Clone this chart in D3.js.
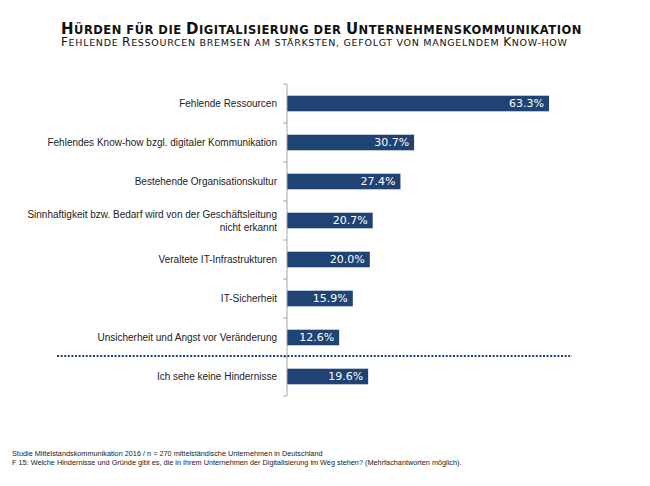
<!DOCTYPE html>
<html>
  <head>
    <script src="https://d3js.org/d3.v7.min.js"></script>
    <meta charset="utf-8">
    <title>Hürden Digitalisierung</title>
    <style>
      body { margin: 0; background: #fff; }
      svg { display: block; }
      .cat { font-family: "Liberation Sans", Arial, sans-serif; font-size: 10px; fill: #222; }
      .val { font-family: "DejaVu Sans", sans-serif; font-size: 11px; fill: #fff; }
      .foot { font-family: "Liberation Sans", Arial, sans-serif; font-size: 7.3px; fill: #222; }
    </style>
  </head>
  <body>
    <script>
      // chart data
      const categories = [
        "Fehlende Ressourcen",
        "Fehlendes Know-how bzgl. digitaler Kommunikation",
        "Bestehende Organisationskultur",
        "Sinnhaftigkeit bzw. Bedarf wird von der Geschäftsleitung\nnicht erkannt",
        "Veraltete IT-Infrastrukturen",
        "IT-Sicherheit",
        "Unsicherheit und Angst vor Veränderung",
        "Ich sehe keine Hindernisse"
      ];
      const values = [63.3, 30.7, 27.4, 20.7, 20.0, 15.9, 12.6, 19.6];

      const title = "Hürden für die Digitalisierung der Unternehmenskommunikation";
      const subtitle = "Fehlende Ressourcen bremsen am stärksten, gefolgt von mangelndem Know-how";
      const footer = [
        "Studie Mittelstandskommunikation 2016 / n = 270 mittelständische Unternehmen in Deutschland",
        "F 15: Welche Hindernisse und Gründe gibt es, die in Ihrem Unternehmen der Digitalisierung im Weg stehen? (Mehrfachantworten möglich)."
      ];

      const width = 650, height = 486;
      const barColor = "#1f4374";

      const svg = d3.select("body")
        .append("svg")
        .attr("width", width)
        .attr("height", height);

      // scales
      const x = d3.scaleLinear().domain([0, 100]).range([287, 701]);
      const y = d3.scaleBand()
        .domain(categories)
        .range([84, 396])
        .paddingInner(0.6)
        .paddingOuter(0.3);

      // small caps: capital letters keep the big size, everything else is uppercased small
      function smallCaps(sel, text, big, small) {
        let run = "", runBig = null;
        const flush = () => {
          if (run) sel.append("tspan").attr("font-size", runBig ? big : small).text(run.toUpperCase());
          run = "";
        };
        for (const ch of text) {
          const isBig = ch !== ch.toLowerCase();
          if (runBig !== null && isBig !== runBig) flush();
          runBig = isBig;
          run += ch;
        }
        flush();
      }

      const t1 = svg.append("text")
        .attr("x", 61).attr("y", 34)
        .attr("font-family", "DejaVu Sans, sans-serif")
        .attr("font-weight", "bold")
        .attr("letter-spacing", 0.5)
        .attr("fill", "#111");
      smallCaps(t1, title, "15px", "11.5px");

      const t2 = svg.append("text")
        .attr("x", 61).attr("y", 46)
        .attr("font-family", "DejaVu Sans, sans-serif")
        .attr("letter-spacing", 0.7)
        .attr("fill", "#111");
      smallCaps(t2, subtitle, "12px", "9.5px");

      // bars
      svg.selectAll("rect.bar")
        .data(values)
        .enter()
        .append("rect")
        .attr("class", "bar")
        .attr("x", x(0))
        .attr("y", (d, i) => y(categories[i]))
        .attr("width", d => x(d) - x(0))
        .attr("height", y.bandwidth())
        .attr("fill", barColor);

      // value labels
      svg.selectAll("text.val")
        .data(values)
        .enter()
        .append("text")
        .attr("class", "val")
        .attr("x", d => x(d) - 5)
        .attr("y", (d, i) => y(categories[i]) + y.bandwidth() / 2)
        .attr("dy", "0.36em")
        .attr("text-anchor", "end")
        .text(d => d.toFixed(1) + "%");

      // category labels (manual so the long one can wrap)
      const cats = svg.selectAll("text.cat")
        .data(categories)
        .enter()
        .append("text")
        .attr("class", "cat")
        .attr("text-anchor", "end")
        .attr("x", x(0) - 10)
        .attr("y", d => y(d) + y.bandwidth() / 2);
      cats.each(function(d) {
        const lines = d.split("\n");
        const el = d3.select(this);
        lines.forEach((l, i) => {
          el.append("tspan")
            .attr("x", x(0) - 10)
            .attr("dy", i === 0 ? (0.35 - (lines.length - 1) * 0.65) + "em" : "1.3em")
            .text(l);
        });
      });

      // axis: vertical line with ticks at band edges
      const step = y.step();
      const edges = d3.range(categories.length + 1).map(i => y.range()[0] + i * step);
      svg.append("line")
        .attr("x1", x(0)).attr("x2", x(0))
        .attr("y1", edges[0]).attr("y2", edges[edges.length - 1])
        .attr("stroke", "#a6a6a6");
      svg.selectAll("line.tick")
        .data(edges)
        .enter()
        .append("line")
        .attr("class", "tick")
        .attr("x1", x(0) - 4).attr("x2", x(0))
        .attr("y1", d => d).attr("y2", d => d)
        .attr("stroke", "#a6a6a6");

      // dotted separator before the last category
      const sepY = edges[categories.length - 1];
      svg.append("line")
        .attr("x1", 57).attr("x2", 572)
        .attr("y1", sepY - 1).attr("y2", sepY - 1)
        .attr("stroke", barColor)
        .attr("stroke-width", 2)
        .attr("stroke-dasharray", "2,1.6");

      // footer
      svg.selectAll("text.foot")
        .data(footer)
        .enter()
        .append("text")
        .attr("class", "foot")
        .attr("x", 12)
        .attr("y", (d, i) => 456 + i * 9)
        .text(d => d);
    </script>
  </body>
</html>
